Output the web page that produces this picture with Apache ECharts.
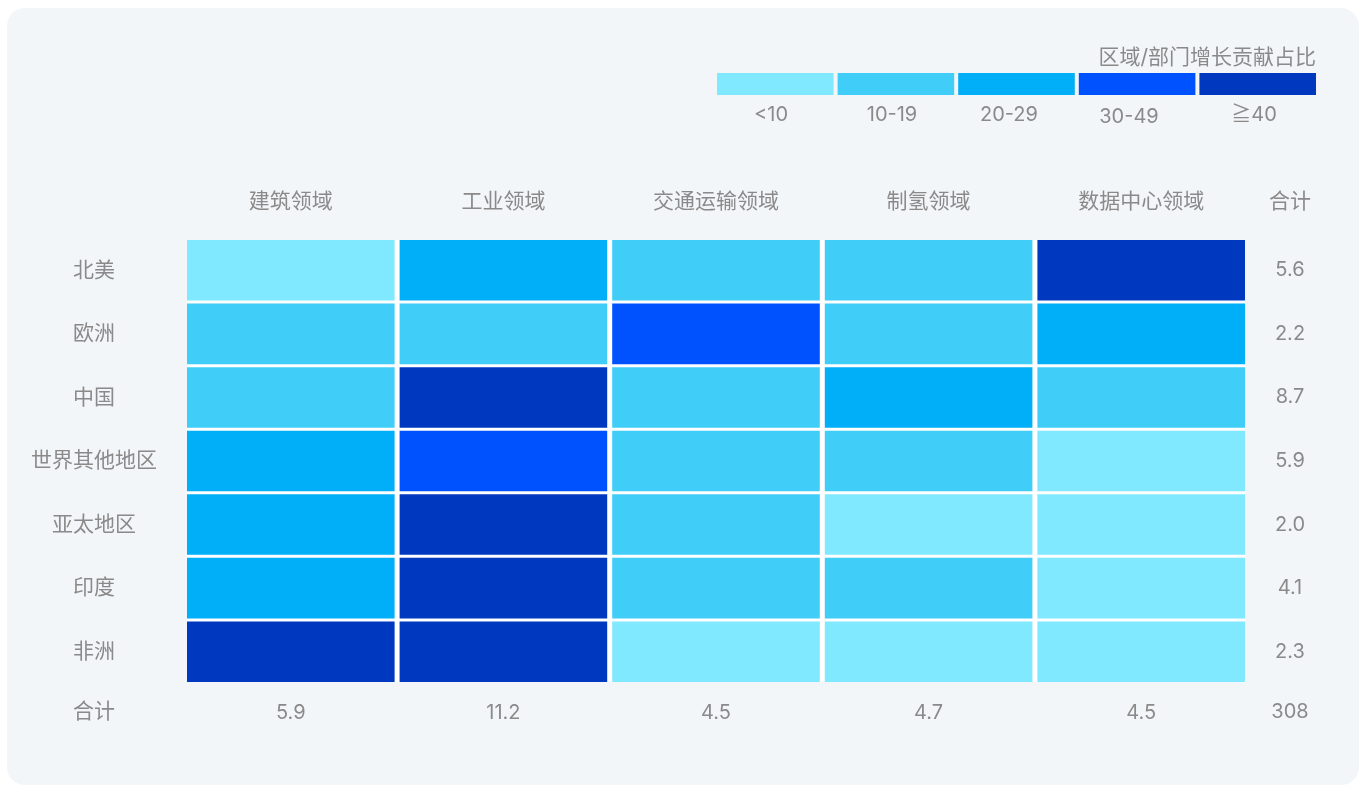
<!DOCTYPE html>
<html>
<head>
<meta charset="utf-8">
<title>区域/部门增长贡献占比</title>
<script src="https://cdn.jsdelivr.net/npm/echarts@6/dist/echarts.min.js"></script>
<style>
  html, body { margin: 0; padding: 0; background: #ffffff; }
  #card {
    position: absolute; left: 7px; top: 8px; width: 1352px; height: 777px;
    border-radius: 18px; background: #F3F6F9;
  }
  #chart { position: absolute; left: 0; top: 0; width: 1363px; height: 786px; }
</style>
</head>
<body>
<div id="card"></div>
<div id="chart"></div>
<script>
// Sectors (columns) and regions (rows)
const sectors = ['建筑领域', '工业领域', '交通运输领域', '制氢领域', '数据中心领域'];
const regions = ['北美', '欧洲', '中国', '世界其他地区', '亚太地区', '印度', '非洲'];

// Growth contribution share per region, one value per sector
const northAmerica = [6, 24, 14, 13, 58];
const europe       = [12, 15, 34, 16, 22];
const china        = [14, 62, 17, 26, 13];
const restOfWorld  = [23, 36, 12, 15, 7];
const asiaPacific  = [21, 55, 11, 8, 6];
const india        = [27, 60, 16, 18, 5];
const africa       = [52, 57, 4, 6, 8];
const regionValues = [northAmerica, europe, china, restOfWorld, asiaPacific, india, africa];

// Totals
const rowTotals = ['5.6', '2.2', '8.7', '5.9', '2.0', '4.1', '2.3'];
const colTotals = ['5.9', '11.2', '4.5', '4.7', '4.5'];
const grandTotal = '308';
const totalLabel = '合计';

// Legend bins
const legendTitle = '区域/部门增长贡献占比';
const legendLabels = ['<10', '10-19', '20-29', '30-49', '≧40'];
const legendColors = ['#80E9FF', '#40CEF8', '#00AFF7', '#0052FF', '#0039BF'];

const cells = [];
regionValues.forEach((row, r) => {
  row.forEach((v, c) => cells.push([c, r, v]));
});

const TEXT = '#8a8a8a';
const FONT = 'Inter, "Noto Sans CJK SC", sans-serif';
const GAP_X = 5, GAP_Y = 3;

const chart = echarts.init(document.getElementById('chart'), null, { renderer: 'canvas' });

const legendPos = [[771, 115], [892, 115], [1009, 115], [1129, 117], [1254, 115]];

chart.setOption({
  backgroundColor: 'transparent',
  animation: false,
  textStyle: { fontFamily: FONT },
  title: {
    text: legendTitle,
    right: 47, top: 47, padding: 0,
    textStyle: { color: TEXT, fontSize: 21, fontWeight: 'normal', fontFamily: FONT, lineHeight: 21 }
  },
  visualMap: {
    type: 'piecewise',
    orient: 'horizontal',
    left: 717, top: 73, padding: 0,
    itemWidth: 116.6, itemHeight: 22, itemGap: 4,
    itemSymbol: 'rect',
    showLabel: false,
    seriesIndex: 0,
    dimension: 2,
    hoverLink: false,
    selectedMode: false,
    pieces: [
      { lt: 10, color: legendColors[0] },
      { gte: 10, lte: 19, color: legendColors[1] },
      { gte: 20, lte: 29, color: legendColors[2] },
      { gte: 30, lte: 49, color: legendColors[3] },
      { gte: 40, color: legendColors[4] }
    ]
  },
  grid: { left: 184.5, top: 238.5, width: 1063, height: 445, containLabel: false },
  xAxis: [
    {
      type: 'category', position: 'top', data: sectors,
      axisLine: { show: false }, axisTick: { show: false }, splitLine: { show: false },
      axisLabel: { color: TEXT, fontSize: 21, fontFamily: FONT, margin: 36.5, verticalAlign: 'middle', interval: 0 }
    },
    {
      type: 'category', position: 'bottom', data: colTotals,
      axisLine: { show: false }, axisTick: { show: false }, splitLine: { show: false },
      axisLabel: { color: TEXT, fontSize: 20, fontFamily: FONT, margin: 29, verticalAlign: 'middle', interval: 0 }
    }
  ],
  yAxis: [
    {
      type: 'category', position: 'left', inverse: true, data: regions,
      axisLine: { show: false }, axisTick: { show: false }, splitLine: { show: false },
      axisLabel: { color: TEXT, fontSize: 21, fontFamily: FONT, margin: 90.5, align: 'center', interval: 0 }
    },
    {
      type: 'category', position: 'right', inverse: true, data: rowTotals,
      axisLine: { show: false }, axisTick: { show: false }, splitLine: { show: false },
      axisLabel: { color: TEXT, fontSize: 20, fontFamily: FONT, margin: 42.5, align: 'center', interval: 0 }
    }
  ],
  series: [{
    type: 'custom',
    xAxisIndex: 0, yAxisIndex: 0,
    data: cells,
    encode: { x: 0, y: 1 },
    renderItem(params, api) {
      const c = api.coord([api.value(0), api.value(1)]);
      const size = api.size([1, 1]);
      const w = size[0] - GAP_X, h = size[1] - GAP_Y;
      const x0 = c[0] - w / 2, y0 = c[1] - h / 2;
      const lastCol = api.value(0) === sectors.length - 1;
      const lastRow = api.value(1) === regions.length - 1;
      return {
        type: 'group',
        children: [
          {
            // white separator behind each cell, reaching into the gap to its right and below
            type: 'rect', silent: true,
            shape: { x: x0, y: y0, width: w + (lastCol ? 0 : GAP_X), height: h + (lastRow ? 0 : GAP_Y) },
            style: { fill: '#ffffff' }
          },
          {
            type: 'rect',
            shape: { x: x0, y: y0, width: w, height: h },
            style: { fill: api.visual('color') }
          }
        ]
      };
    }
  }],
  graphic: [
    ...legendLabels.map((t, i) => ({
      type: 'text', x: legendPos[i][0], y: legendPos[i][1], silent: true,
      style: { text: t, fill: TEXT, font: '20px ' + FONT, textAlign: 'center', textVerticalAlign: 'middle' }
    })),
    { type: 'text', x: 1290, y: 202, silent: true,
      style: { text: totalLabel, fill: TEXT, font: '21px ' + FONT, textAlign: 'center', textVerticalAlign: 'middle' } },
    { type: 'text', x: 94, y: 712, silent: true,
      style: { text: totalLabel, fill: TEXT, font: '21px ' + FONT, textAlign: 'center', textVerticalAlign: 'middle' } },
    { type: 'text', x: 1290, y: 712, silent: true,
      style: { text: grandTotal, fill: TEXT, font: '20px ' + FONT, textAlign: 'center', textVerticalAlign: 'middle' } }
  ]
});
</script>
</body>
</html>
